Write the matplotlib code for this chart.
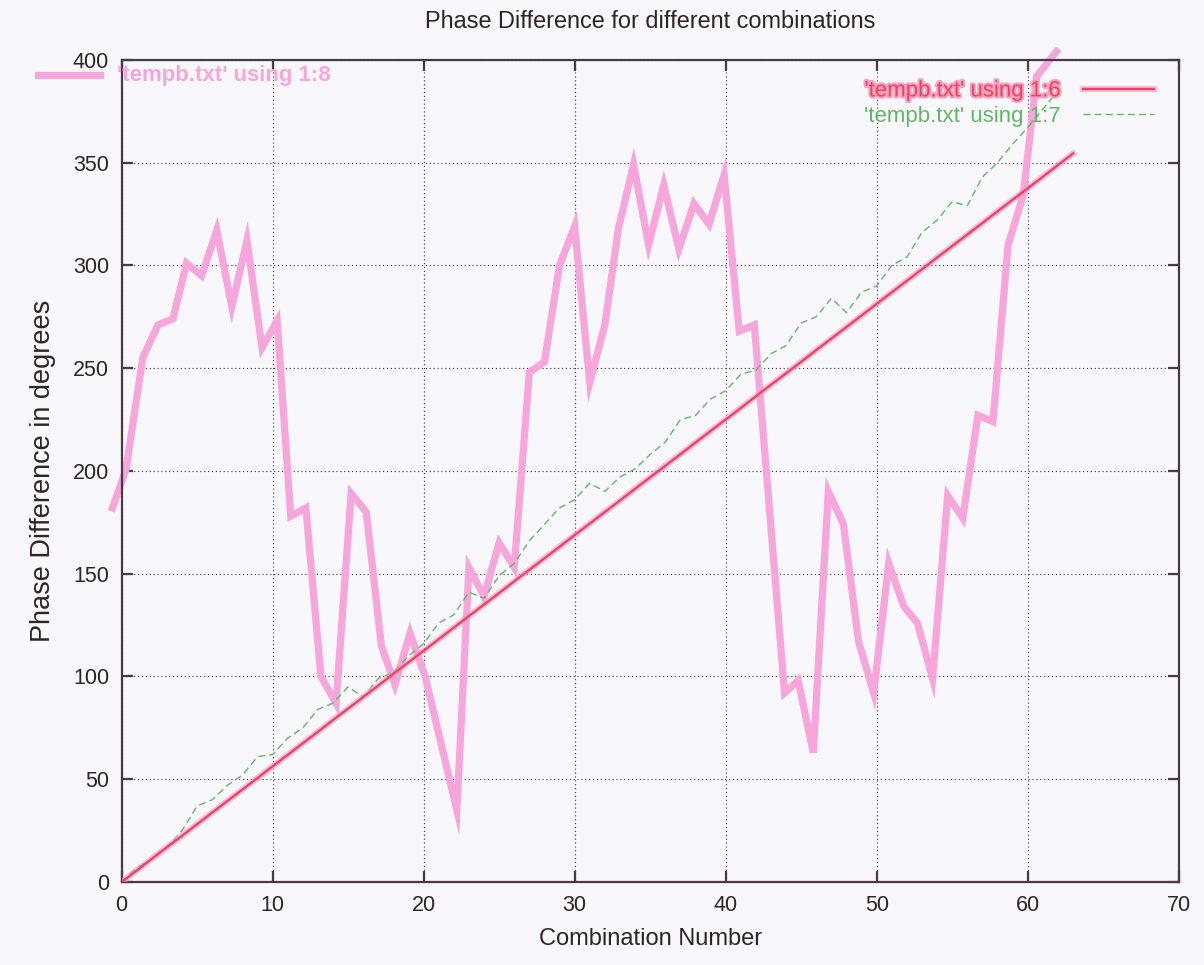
import matplotlib
matplotlib.use("Agg")
import matplotlib.pyplot as plt
import matplotlib.patheffects as pe
from matplotlib.lines import Line2D

plt.rcParams['font.family'] = ['Liberation Sans', 'DejaVu Sans']

# column 6 of tempb.txt: combination number vs phase
comb = list(range(64))
phase_col6 = [0, 5.6, 11.3, 16.9, 22.5, 28.1, 33.8, 39.4, 45, 50.6,
              56.3, 61.9, 67.5, 73.1, 78.8, 84.4, 90, 95.6, 101.3, 106.9,
              112.5, 118.1, 123.8, 129.4, 135, 140.6, 146.3, 151.9, 157.5, 163.1,
              168.8, 174.4, 180, 185.6, 191.3, 196.9, 202.5, 208.1, 213.8, 219.4,
              225, 230.6, 236.3, 241.9, 247.5, 253.1, 258.8, 264.4, 270, 275.6,
              281.3, 286.9, 292.5, 298.1, 303.8, 309.4, 315, 320.6, 326.3, 331.9,
              337.5, 343.1, 348.8, 354.4]

# column 7 of tempb.txt
comb7 = list(range(63))
phase_col7 = [0, 7, 11, 17, 25, 37, 40, 47, 52, 61,
              62, 70, 75, 84, 87, 95, 90, 99, 102, 110,
              116, 126, 130, 141, 138, 149, 155, 166, 174, 182,
              186, 194, 190, 197, 201, 208, 214, 225, 227, 235,
              239, 247, 249, 257, 261, 272, 275, 284, 277, 287,
              290, 300, 304, 316, 322, 331, 329, 343, 350, 359,
              367, 376, 385]

# column 8 trace (pink)
x_col8 = [-0.6, 0.3, 1.4, 2.4, 3.4, 4.3, 5.3, 6.3, 7.3, 8.3,
          9.3, 10.3, 11.2, 12.2, 13.2, 14.2, 15.2, 16.2, 17.2, 18.1,
          19.1, 20.1, 22.2, 23.0, 24.0, 25.0, 26.0, 27.0, 28.0, 29.0,
          30.0, 31.0, 32.0, 32.9, 33.9, 34.9, 35.9, 36.9, 37.9, 38.9,
          39.9, 40.9, 41.9, 43.9, 44.8, 45.8, 46.8, 47.8, 48.8, 49.8,
          50.8, 51.8, 52.7, 53.7, 54.7, 55.7, 56.7, 57.7, 58.7, 59.7,
          60.6, 61.9]
y_col8 = [182, 201, 255, 271, 274, 301, 295, 317, 280, 312,
          260, 273, 178, 182, 100, 87, 189, 180, 115, 96,
          121, 100, 35, 153, 139, 165, 153, 248, 253, 300,
          319, 243, 271, 318, 349, 310, 339, 308, 330, 320,
          344, 268, 271, 92, 98, 63, 190, 174, 117, 92,
          155, 134, 126, 99, 188, 177, 227, 224, 310, 334,
          392, 404]

bg = '#f8f7fb'
frame = '#4a3a44'
ink = '#2e2428'
pink = '#f7a6dc'
red = '#ec4460'
green = '#62b862'

fig = plt.figure(figsize=(12.04, 9.65), dpi=100, facecolor=bg)
ax = fig.add_axes([0.101, 0.086, 0.878, 0.852], facecolor=bg)

ax.plot(x_col8, y_col8, color=pink, lw=5.2, zorder=1.5, clip_on=False,
        solid_joinstyle='miter')

red_line, = ax.plot(comb, phase_col6, color=red, lw=1.7, zorder=3,
                    label="'tempb.txt' using 1:6")
red_line.set_path_effects([pe.Stroke(linewidth=4.5, foreground='#f59ac8', alpha=0.6),
                           pe.Normal()])
ax.plot(comb7, phase_col7, color=green, lw=1.0, ls=(0, (5, 3)), zorder=2.5,
        label="'tempb.txt' using 1:7")

ax.set_xlim(0, 70)
ax.set_ylim(0, 400)
ax.set_xticks(range(0, 71, 10))
ax.set_yticks(range(0, 401, 50))

ax.grid(True, color='#3c3036', ls=(0, (1, 2.5)), lw=0.8)
ax.set_axisbelow(True)
ax.tick_params(direction='in', length=8, width=1.6, color=frame,
               top=True, right=True, labelcolor=ink, labelsize=15.5, pad=9)
for s in ax.spines.values():
    s.set_color(frame)
    s.set_linewidth(1.6)

ax.set_title('Phase Difference for different combinations', fontsize=16.9,
             color=ink, pad=23)
ax.set_xlabel('Combination Number', fontsize=17, color=ink, labelpad=9)
ax.set_ylabel('Phase Difference in degrees', fontsize=19.5, color=ink, labelpad=12)

leg = ax.legend(loc='upper right', markerfirst=False, frameon=False, fontsize=16,
                handlelength=3.2, handletextpad=1.0, labelspacing=0.2,
                borderaxespad=0, borderpad=0, bbox_to_anchor=(0.977, 0.975))
leg.get_texts()[0].set_color(red)
leg.get_texts()[0].set_path_effects([pe.withStroke(linewidth=3, foreground='#f7a0c0')])
leg.get_texts()[1].set_color(green)

# legend entry of the pink trace, top left
fig.add_artist(Line2D([38 / 1204, 100 / 1204], [1 - 75 / 965, 1 - 75 / 965],
                      color=pink, lw=5.2))
fig.text(117 / 1204, 1 - 75 / 965, "'tempb.txt' using 1:8", color=pink,
         fontsize=16, fontweight='bold', va='center', ha='left')

fig.savefig('out.png', dpi=100, facecolor=bg)
